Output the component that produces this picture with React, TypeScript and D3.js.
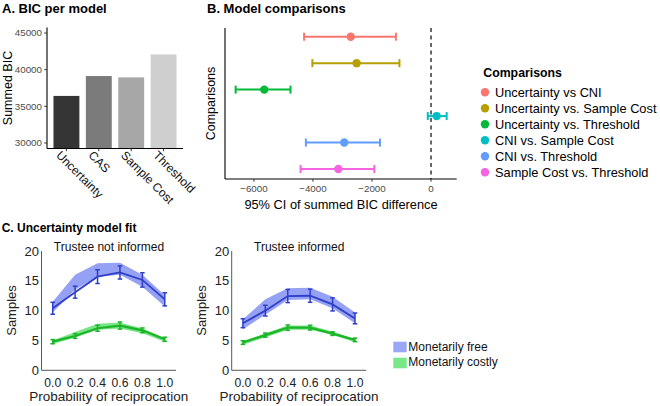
import React from "react";
import * as d3 from "d3";

const FONT = "'Liberation Sans', Arial, Helvetica, sans-serif";

// Panel A
const models = ["Uncertainty", "CAS", "Sample Cost", "Threshold"];
const bicValues = [36420, 39130, 38950, 42080];
const bicColors = ["#353535", "#7b7b7b", "#a7a7a7", "#cfcfcf"];
const bicTicks = [30000, 35000, 40000, 45000];

// Panel B
const comparisons = [
  "Uncertainty vs CNI",
  "Uncertainty vs. Sample Cost",
  "Uncertainty vs. Threshold",
  "CNI vs. Sample Cost",
  "CNI vs. Threshold",
  "Sample Cost vs. Threshold",
];
const ciMean = [-2720, -2520, -5650, 190, -2940, -3140];
const ciLow = [-4300, -4020, -6620, -110, -4240, -4420];
const ciHigh = [-1190, -1070, -4760, 530, -1730, -1920];
const compColors = ["#F8766D", "#B79F00", "#00BA38", "#00BFC4", "#619CFF", "#F564E3"];
const diffTicks = [-6000, -4000, -2000, 0];

// Panel C
const probs = [0, 0.2, 0.4, 0.6, 0.8, 1.0];
const probTicks = ["0.0", "0.2", "0.4", "0.6", "0.8", "1.0"];
const sampleTicks = [0, 5, 10, 15, 20];

const niFreeMean = [10.4, 13.1, 15.7, 16.4, 15.15, 11.9];
const niFreeErr = [1.0, 1.0, 1.15, 1.1, 1.2, 1.1];
const niFreeBandLo = [9.7, 13.5, 15.7, 16.0, 14.0, 10.7];
const niFreeBandHi = [11.5, 16.0, 17.95, 18.05, 16.0, 12.6];
const niCostMean = [4.8, 5.75, 7.05, 7.5, 6.7, 5.2];
const niCostErr = [0.35, 0.4, 0.5, 0.6, 0.4, 0.35];
const niCostBandLo = [4.4, 5.5, 6.8, 7.0, 6.2, 4.8];
const niCostBandHi = [5.0, 6.4, 7.8, 8.0, 7.0, 5.4];

const inFreeMean = [7.9, 10.0, 12.45, 12.5, 11.05, 8.7];
const inFreeErr = [0.75, 0.9, 1.1, 1.1, 1.1, 0.9];
const inFreeBandLo = [6.9, 9.3, 11.8, 11.9, 10.4, 7.9];
const inFreeBandHi = [8.55, 11.9, 13.75, 13.85, 12.35, 9.7];
const inCostMean = [4.65, 5.9, 7.15, 7.15, 6.15, 5.1];
const inCostErr = [0.3, 0.35, 0.45, 0.4, 0.3, 0.3];
const inCostBandLo = [4.3, 5.5, 6.8, 6.8, 5.9, 4.7];
const inCostBandHi = [4.9, 6.2, 7.5, 7.5, 6.5, 5.2];

const conditionLabels = ["Monetarily free", "Monetarily costly"];
const subplotTitles = ["Trustee not informed", "Trustee informed"];

const FREE_LINE = "#2f3fc8";
const FREE_BAND = "#8f9cf3";
const COST_LINE = "#1cb52a";
const COST_BAND = "#72e47f";

function PanelA() {
  const x = d3.scaleLinear().domain([0.4, 4.6]).range([47, 183]);
  const y = d3.scaleLinear().domain([29250, 45750]).range([148.5, 27.5]);
  const bw = 0.8 * (x(1) - x(0));
  return (
    <g>
      <text x={2} y={13} fontSize={13} fontWeight="bold" fontFamily={FONT}>A. BIC per model</text>
      {models.map((m, i) => (
        <rect key={m} x={x(i + 1) - bw / 2} y={y(bicValues[i])} width={bw}
          height={y(29250) - y(bicValues[i])} fill={bicColors[i]} />
      ))}
      <line x1={47} x2={47} y1={y(45750)} y2={148.5} stroke="#000" strokeWidth={1.1} />
      <line x1={47} x2={183} y1={148.5} y2={148.5} stroke="#000" strokeWidth={1.1} />
      {bicTicks.map((t) => (
        <g key={t}>
          <line x1={44.3} x2={47} y1={y(t)} y2={y(t)} stroke="#333" />
          <text x={42} y={y(t) + 3.4} fontSize={9.8} fill="#4d4d4d" textAnchor="end" fontFamily={FONT}>{t}</text>
        </g>
      ))}
      {models.map((m, i) => (
        <g key={m}>
          <line x1={x(i + 1)} x2={x(i + 1)} y1={148.5} y2={151.2} stroke="#333" />
          <text transform={`translate(${x(i + 1) - 11},${156}) rotate(45)`} fontSize={12} fontFamily={FONT} fill="#111">{m}</text>
        </g>
      ))}
      <text transform={`translate(12,88) rotate(-90)`} fontSize={12.5} textAnchor="middle" fontFamily={FONT}>Summed BIC</text>
    </g>
  );
}

function PanelB() {
  const x = d3.scaleLinear().domain([-6980, 870]).range([225, 456.7]);
  const y = d3.scalePoint<string>().domain(comparisons).range([36.7, 169]);
  const top = 28;
  const bottom = 179;
  return (
    <g>
      <text x={207} y={13} fontSize={13} fontWeight="bold" fontFamily={FONT}>B. Model comparisons</text>
      <line x1={x(0)} x2={x(0)} y1={top} y2={bottom} stroke="#444" strokeWidth={1.6} strokeDasharray="4,3.5" />
      {comparisons.map((c, i) => {
        const cy = y(c) as number;
        return (
          <g key={c} stroke={compColors[i]} fill={compColors[i]}>
            <line x1={x(ciLow[i])} x2={x(ciHigh[i])} y1={cy} y2={cy} strokeWidth={2} />
            <line x1={x(ciLow[i])} x2={x(ciLow[i])} y1={cy - 4} y2={cy + 4} strokeWidth={2} />
            <line x1={x(ciHigh[i])} x2={x(ciHigh[i])} y1={cy - 4} y2={cy + 4} strokeWidth={2} />
            <circle cx={x(ciMean[i])} cy={cy} r={4.2} stroke="none" />
          </g>
        );
      })}
      <line x1={225} x2={225} y1={top} y2={bottom} stroke="#000" strokeWidth={1.1} />
      <line x1={225} x2={456.7} y1={bottom} y2={bottom} stroke="#000" strokeWidth={1.1} />
      {diffTicks.map((t) => (
        <g key={t}>
          <line x1={x(t)} x2={x(t)} y1={bottom} y2={bottom + 2.7} stroke="#333" />
          <text x={x(t)} y={191.5} fontSize={9.8} fill="#4d4d4d" textAnchor="middle" fontFamily={FONT}>{t === 0 ? "0" : "\u2212" + Math.abs(t)}</text>
        </g>
      ))}
      <text x={341} y={208.5} fontSize={12.8} textAnchor="middle" fontFamily={FONT}>95% CI of summed BIC difference</text>
      <text transform={`translate(214.5,103.5) rotate(-90)`} fontSize={12.5} textAnchor="middle" fontFamily={FONT}>Comparisons</text>
      <text x={483.3} y={77.3} fontSize={12.3} fontWeight="bold" fontFamily={FONT}>Comparisons</text>
      {comparisons.map((c, i) => {
        const ly = 92.3 + i * 16;
        return (
          <g key={c}>
            <circle cx={485} cy={ly} r={4.2} fill={compColors[i]} />
            <text x={495} y={ly + 4.5} fontSize={12.8} fontFamily={FONT}>{c}</text>
          </g>
        );
      })}
    </g>
  );
}

type SubProps = {
  dx: number;
  title: string;
  freeMean: number[]; freeErr: number[]; freeLo: number[]; freeHi: number[];
  costMean: number[]; costErr: number[]; costLo: number[]; costHi: number[];
};

function Subplot(p: SubProps) {
  const x = d3.scaleLinear().domain([-0.1, 1.1]).range([41.5 + p.dx, 176 + p.dx]);
  const y = d3.scaleLinear().domain([0, 20]).range([370.3, 251]);
  const area = d3.area<number>().x((_, i) => x(probs[i]));
  const line = d3.line<number>().x((_, i) => x(probs[i])).y((v) => y(v));
  const band = (lo: number[], hi: number[]) =>
    area.y0((_, i) => y(lo[i])).y1((_, i) => y(hi[i]))(lo) as string;
  const series = (mean: number[], err: number[], lo: number[], hi: number[], lc: string, bc: string, sw: number) => (
    <g>
      <path d={band(lo, hi)} fill={bc} opacity={0.95} />
      <path d={line(mean) as string} fill="none" stroke={lc} strokeWidth={sw} />
      {mean.map((m, i) => (
        <g key={i} stroke={lc} strokeWidth={1.5}>
          <line x1={x(probs[i])} x2={x(probs[i])} y1={y(m - err[i])} y2={y(m + err[i])} />
          <line x1={x(probs[i]) - 2.3} x2={x(probs[i]) + 2.3} y1={y(m - err[i])} y2={y(m - err[i])} />
          <line x1={x(probs[i]) - 2.3} x2={x(probs[i]) + 2.3} y1={y(m + err[i])} y2={y(m + err[i])} />
        </g>
      ))}
    </g>
  );
  const x0 = 41.5 + p.dx;
  return (
    <g>
      {series(p.freeMean, p.freeErr, p.freeLo, p.freeHi, FREE_LINE, FREE_BAND, 1.8)}
      {series(p.costMean, p.costErr, p.costLo, p.costHi, COST_LINE, COST_BAND, 2.2)}
      <line x1={x0} x2={x0} y1={251} y2={370.3} stroke="#444" strokeWidth={0.9} />
      <line x1={x0} x2={176 + p.dx} y1={370.3} y2={370.3} stroke="#444" strokeWidth={0.9} />
      {sampleTicks.map((t) => (
        <text key={t} x={x0 - 2.5} y={y(t) + 4.5} fontSize={13} textAnchor="end" fontFamily={FONT} fill="#222">{t}</text>
      ))}
      {probs.map((v, i) => (
        <text key={i} x={x(v)} y={386.7} fontSize={12.2} textAnchor="middle" fontFamily={FONT} fill="#222">{probTicks[i]}</text>
      ))}
      <text x={109 + p.dx} y={250.5} fontSize={12} textAnchor="middle" fontFamily={FONT} fill="#111">{p.title}</text>
      <text x={108.8 + p.dx} y={401} fontSize={13.5} textAnchor="middle" fontFamily={FONT} fill="#222">Probability of reciprocation</text>
      <text transform={`translate(${16 + p.dx},310.5) rotate(-90)`} fontSize={13} textAnchor="middle" fontFamily={FONT} fill="#222">Samples</text>
    </g>
  );
}

function PanelC() {
  return (
    <g>
      <text x={1.7} y={231.5} fontSize={12} fontWeight="bold" fontFamily={FONT}>C. Uncertainty model fit</text>
      <Subplot dx={0} title={subplotTitles[0]}
        freeMean={niFreeMean} freeErr={niFreeErr} freeLo={niFreeBandLo} freeHi={niFreeBandHi}
        costMean={niCostMean} costErr={niCostErr} costLo={niCostBandLo} costHi={niCostBandHi} />
      <Subplot dx={190.2} title={subplotTitles[1]}
        freeMean={inFreeMean} freeErr={inFreeErr} freeLo={inFreeBandLo} freeHi={inFreeBandHi}
        costMean={inCostMean} costErr={inCostErr} costLo={inCostBandLo} costHi={inCostBandHi} />
      {conditionLabels.map((l, i) => (
        <g key={l}>
          <rect x={393.3} y={341.7 + i * 16} width={13.4} height={10.6} fill={i === 0 ? "#9aa6f6" : "#79e68a"} />
          <text x={408.3} y={350.8 + i * 15.6} fontSize={12} fontFamily={FONT} fill="#111">{l}</text>
        </g>
      ))}
    </g>
  );
}

export default function App() {
  return (
    <svg width={660} height={406} viewBox="0 0 660 406"
      style={{ position: "absolute", left: 0, top: 0, background: "#fff" }}>
      <rect width={660} height={406} fill="#fff" />
      <PanelA />
      <PanelB />
      <PanelC />
    </svg>
  );
}
